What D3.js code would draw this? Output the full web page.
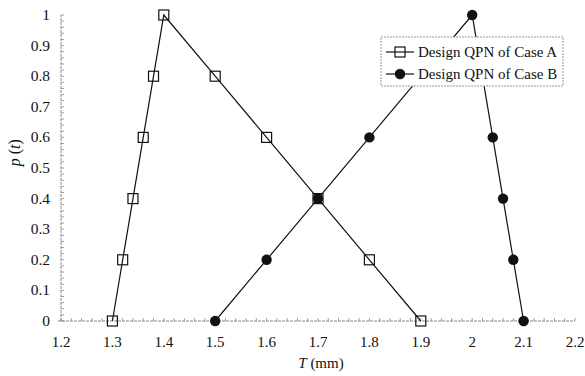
<!DOCTYPE html>
<html>
<head>
<meta charset="utf-8">
<script src="https://cdn.jsdelivr.net/npm/d3@7/dist/d3.min.js"></script>
<style>
  body { margin: 0; background: #fff; }
  text { font-family: "Liberation Serif", "DejaVu Serif", serif; fill: #111; }
</style>
</head>
<body>
<svg id="chart" width="585" height="376"></svg>
<script>
// data
var caseA_T = [1.3, 1.32, 1.34, 1.36, 1.38, 1.4, 1.5, 1.6, 1.7, 1.8, 1.9];
var caseA_p = [0, 0.2, 0.4, 0.6, 0.8, 1.0, 0.8, 0.6, 0.4, 0.2, 0];
var caseB_T = [1.5, 1.6, 1.7, 1.8, 1.9, 2.0, 2.04, 2.06, 2.08, 2.1];
var caseB_p = [0, 0.2, 0.4, 0.6, 0.8, 1.0, 0.6, 0.4, 0.2, 0];
var xTicks = [1.2, 1.3, 1.4, 1.5, 1.6, 1.7, 1.8, 1.9, 2, 2.1, 2.2];
var yTicks = [0, 0.1, 0.2, 0.3, 0.4, 0.5, 0.6, 0.7, 0.8, 0.9, 1];
var seriesNames = ["Design QPN of Case A", "Design QPN of Case B"];

var svg = d3.select("#chart");

var x = d3.scaleLinear().domain([1.2, 2.2]).range([61, 575]);
var y = d3.scaleLinear().domain([0, 1]).range([321, 15]);

var axisColor = "#888";

// x axis: line + minor ticks pointing up
var gx = svg.append("g");
gx.append("line")
    .attr("x1", x(1.2) - 3).attr("x2", x(2.2))
    .attr("y1", y(0)).attr("y2", y(0))
    .attr("stroke", axisColor).attr("stroke-width", 1)
    .attr("stroke-dasharray", "3,1");
gx.selectAll(".minor")
    .data(d3.range(0, 51).map(i => 1.2 + i * 0.02))
    .enter().append("line")
    .attr("x1", d => x(d)).attr("x2", d => x(d))
    .attr("y1", y(0)).attr("y2", y(0) - 3)
    .attr("stroke", axisColor).attr("stroke-width", 0.8);
gx.selectAll(".lbl")
    .data(xTicks)
    .enter().append("text")
    .attr("x", d => x(d))
    .attr("y", y(0) + 26)
    .attr("text-anchor", "middle")
    .attr("font-size", 15)
    .text(d => d);

// y axis
var gy = svg.append("g");
gy.append("line")
    .attr("x1", x(1.2)).attr("x2", x(1.2))
    .attr("y1", y(0)).attr("y2", y(1))
    .attr("stroke", axisColor).attr("stroke-width", 1)
    .attr("stroke-dasharray", "3,1");
gy.selectAll(".minor")
    .data(d3.range(0, 51).map(i => i * 0.02))
    .enter().append("line")
    .attr("x1", x(1.2)).attr("x2", x(1.2) + 3)
    .attr("y1", d => y(d)).attr("y2", d => y(d))
    .attr("stroke", axisColor).attr("stroke-width", 0.8);
gy.selectAll(".lbl")
    .data(yTicks)
    .enter().append("text")
    .attr("x", 50)
    .attr("y", d => y(d) + 5)
    .attr("text-anchor", "end")
    .attr("font-size", 15.5)
    .text(d => d);

// axis titles
var yl = svg.append("text")
    .attr("transform", "translate(20," + y(0.55) + ") rotate(-90)")
    .attr("text-anchor", "middle")
    .attr("font-size", 16);
yl.append("tspan").attr("font-style", "italic").text("p");
yl.append("tspan").text(" (");
yl.append("tspan").attr("font-style", "italic").text("t");
yl.append("tspan").text(")");

var xl = svg.append("text")
    .attr("x", 321).attr("y", 368)
    .attr("text-anchor", "middle")
    .attr("font-size", 15);
xl.append("tspan").attr("font-style", "italic").text("T");
xl.append("tspan").text(" (mm)");

// lines
var line = d3.line().x(d => x(d[0])).y(d => y(d[1]));
var dataA = caseA_T.map((t, i) => [t, caseA_p[i]]);
var dataB = caseB_T.map((t, i) => [t, caseB_p[i]]);

svg.append("path").attr("d", line(dataA))
    .attr("fill", "none").attr("stroke", "#111").attr("stroke-width", 1.2);
svg.append("path").attr("d", line(dataB))
    .attr("fill", "none").attr("stroke", "#111").attr("stroke-width", 1.2);

svg.append("g").selectAll("circle")
    .data(dataB).enter().append("circle")
    .attr("cx", d => x(d[0])).attr("cy", d => y(d[1]))
    .attr("r", 5.2).attr("fill", "#111");

svg.append("g").selectAll("rect")
    .data(dataA).enter().append("rect")
    .attr("x", d => x(d[0]) - 5).attr("y", d => y(d[1]) - 5)
    .attr("width", 10).attr("height", 10)
    .attr("fill", "none").attr("stroke", "#111").attr("stroke-width", 1.2);

// legend
var lg = svg.append("g");
lg.append("rect")
    .attr("x", 381).attr("y", 37).attr("width", 182).attr("height", 49)
    .attr("fill", "#fff").attr("stroke", "#999").attr("stroke-width", 1)
    .attr("stroke-dasharray", "2,1");
seriesNames.forEach(function(name, i) {
    var ly = 52 + i * 22;
    lg.append("line").attr("x1", 386).attr("x2", 414)
        .attr("y1", ly).attr("y2", ly)
        .attr("stroke", "#111").attr("stroke-width", 1.2);
    if (i === 0) {
        lg.append("rect").attr("x", 395).attr("y", ly - 5)
            .attr("width", 10).attr("height", 10)
            .attr("fill", "none").attr("stroke", "#111").attr("stroke-width", 1.2);
    } else {
        lg.append("circle").attr("cx", 400).attr("cy", ly).attr("r", 5.2).attr("fill", "#111");
    }
    lg.append("text").attr("x", 418).attr("y", ly + 5)
        .attr("font-size", 15).text(name);
});
</script>
</body>
</html>
